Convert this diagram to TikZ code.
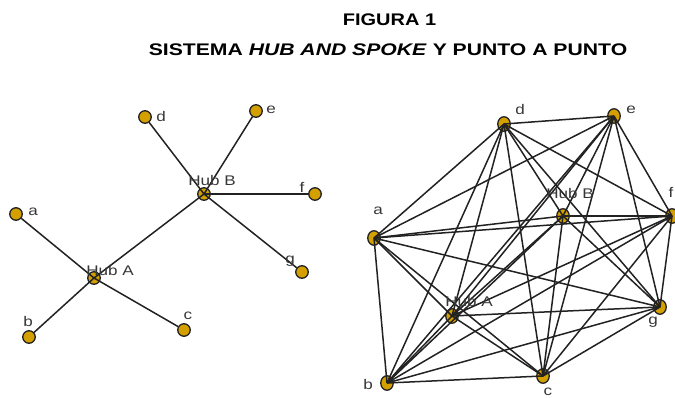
\documentclass[tikz,border=0pt]{standalone}
\usepackage{fontspec}
\setmainfont{Liberation Sans}
\usetikzlibrary{shapes.geometric}
\definecolor{gold}{RGB}{212,160,0}
\definecolor{ink}{RGB}{34,34,34}
\definecolor{lbl}{RGB}{55,55,55}
\pgfdeclarelayer{bg}\pgfdeclarelayer{mid}
\pgfsetlayers{bg,mid,main}
\newcommand{\sx}[1]{\scalebox{1.22}[1]{#1}}
\begin{document}
\begin{tikzpicture}[x=1pt,y=-1pt,
 pt/.style={circle,draw=ink,fill=gold,line width=1.3pt,minimum size=12.5pt,inner sep=0pt},
 ept/.style={ellipse,draw=ink,fill=gold,line width=1.3pt,minimum width=12.5pt,minimum height=14.5pt,inner sep=0pt},
 edge/.style={draw=ink,line width=1.5pt},
 lab/.style={text=lbl,font=\fontsize{14}{14}\selectfont,inner sep=0pt},
 ttl/.style={font=\fontsize{16.8}{17}\bfseries\selectfont,inner sep=0pt}]
\useasboundingbox (0,0) rectangle (675,398);
% titles
\node[ttl] (t1) at (389.5,19.5) {\scalebox{1.19}[1]{FIGURA 1}};
\node[ttl] (t2) at (388,50) {\scalebox{1.26}[1]{SISTEMA \textit{HUB AND SPOKE} Y PUNTO A PUNTO}};
% ---------- left: hub and spoke ----------
\begin{pgfonlayer}{bg}
\node[pt] (LA) at (94,278) {};
\node[pt] (LB) at (204,194) {};
\end{pgfonlayer}
\node[pt] (La) at (16,214) {};
\node[pt] (Lb) at (29,337) {};
\node[pt] (Lc) at (184,330) {};
\node[pt] (Ld) at (145,117) {};
\node[pt] (Le) at (256,111) {};
\node[pt] (Lf) at (315,194) {};
\node[pt] (Lg) at (302,272) {};
\begin{pgfonlayer}{mid}
\draw[edge] (LA.center) -- (LB.center);
\foreach \t in {La,Lb,Lc} \draw[edge] (LA.center) -- (\t);
\foreach \t in {Ld,Le,Lf,Lg} \draw[edge] (LB.center) -- (\t);
\end{pgfonlayer}
\node[lab] (lLa) at (33,212) {\sx{a}};
\node[lab] (lLb) at (28,321) {\sx{b}};
\node[lab] (lLc) at (188,316) {\sx{c}};
\node[lab] (lLd) at (161,116) {\sx{d}};
\node[lab] (lLe) at (271,110) {\sx{e}};
\node[lab] (lLf) at (302,187) {\sx{f}};
\node[lab] (lLg) at (290,261) {\sx{g}};
\node[lab] (lLA) at (110,270) {\sx{Hub A}};
\node[lab] (lLB) at (212,180) {\sx{Hub B}};
% ---------- right: point to point ----------
\begin{pgfonlayer}{bg}
\node[ept] (Ra) at (374,238) {};
\node[ept] (Rb) at (387,383) {};
\node[ept] (Rc) at (543,376) {};
\node[ept] (Rd) at (504,124) {};
\node[ept] (Re) at (614,116) {};
\node[ept] (Rf) at (672,216) {};
\node[ept] (Rg) at (660,307) {};
\node[ept] (RA) at (452,316) {};
\node[ept] (RB) at (563,216) {};
\end{pgfonlayer}
\begin{pgfonlayer}{mid}
\foreach \i [count=\n] in {Ra,Rb,Rc,Rd,Re,Rf,Rg,RA,RB}{
  \foreach \j [count=\m] in {Ra,Rb,Rc,Rd,Re,Rf,Rg,RA,RB}{
    \ifnum\m>\n \draw[edge] (\i.center) -- (\j.center); \fi
  }
}
\end{pgfonlayer}
\node[lab] (lRa) at (378,211) {\sx{a}};
\node[lab] (lRb) at (368,384) {\sx{b}};
\node[lab] (lRc) at (548,392) {\sx{c}};
\node[lab] (lRd) at (520,109) {\sx{d}};
\node[lab] (lRe) at (631,110) {\sx{e}};
\node[lab] (lRf) at (671,192) {\sx{f}};
\node[lab] (lRg) at (653,322) {\sx{g}};
\node[lab] (lRA) at (469,301) {\sx{Hub A}};
\node[lab] (lRB) at (570,193) {\sx{Hub B}};
\end{tikzpicture}
\end{document}
